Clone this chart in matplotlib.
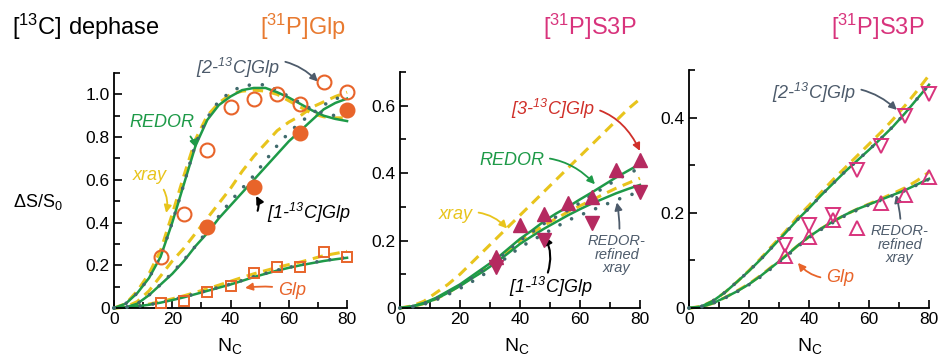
import matplotlib
matplotlib.use("Agg")
import matplotlib.pyplot as plt
import numpy as np

plt.rcParams['font.family'] = ['Liberation Sans', 'DejaVu Sans']
plt.rcParams['mathtext.fontset'] = 'custom'
plt.rcParams['mathtext.rm'] = 'Liberation Sans'
plt.rcParams['mathtext.it'] = 'Liberation Sans:italic'
plt.rcParams['mathtext.default'] = 'regular'

GREEN = '#1e9a48'
YELLOW = '#e8c41c'
DOTS = '#3f6a6c'
ORANGE = '#e8642a'
MAGENTA = '#d8337c'
CRIMSON = '#b52a60'
RED = '#d0302a'
GRAYBLUE = '#4d5b6b'

# ---- data ----
nc_pts = [16, 24, 32, 40, 48, 56, 64, 72, 80]
nc_curve = [0, 4, 8, 12, 16, 20, 24, 28, 32, 36, 40, 44, 48, 52, 56, 60, 64, 68, 72, 76, 80]

# left panel: [31P]Glp
glp_c2 = [0.24, 0.44, 0.74, 0.94, 0.98, 1.00, 0.955, 1.06, 1.01]
glp_c1_nc = [32, 48, 64, 80]
glp_c1 = [0.38, 0.565, 0.82, 0.925]
glp_glp = [0.025, 0.035, 0.075, 0.105, 0.165, 0.19, 0.19, 0.26, 0.24]

c2_redor = [0, 0.02, 0.07, 0.14, 0.24, 0.40, 0.58, 0.76, 0.88, 0.95, 0.99,
            1.02, 1.03, 1.03, 1.01, 0.985, 0.955, 0.925, 0.90, 0.885, 0.875]
c2_xray = [0, 0.02, 0.08, 0.16, 0.27, 0.44, 0.62, 0.79, 0.90, 0.96, 1.00,
           1.015, 1.02, 1.015, 1.00, 0.97, 0.94, 0.91, 0.895, 0.89, 0.89]
c2_refined = [0, 0.02, 0.07, 0.14, 0.24, 0.40, 0.58, 0.77, 0.89, 0.97, 1.01,
              1.04, 1.045, 1.045, 1.02, 0.99, 0.96, 0.93, 0.91, 0.90, 0.90]
c1_redor = [0, 0.003, 0.02, 0.06, 0.11, 0.16, 0.22, 0.29, 0.35, 0.42, 0.48,
            0.54, 0.60, 0.66, 0.72, 0.78, 0.83, 0.88, 0.93, 0.96, 0.98]
c1_xray = [0, 0.005, 0.03, 0.08, 0.15, 0.22, 0.28, 0.35, 0.42, 0.49, 0.56,
           0.64, 0.71, 0.77, 0.83, 0.87, 0.90, 0.94, 0.965, 0.99, 1.01]
c1_refined = [0, 0.003, 0.02, 0.06, 0.11, 0.165, 0.225, 0.29, 0.36, 0.43, 0.50,
              0.56, 0.62, 0.69, 0.76, 0.82, 0.87, 0.91, 0.95, 0.98, 0.99]
g_redor = [0, 0.003, 0.008, 0.015, 0.025, 0.037, 0.05, 0.065, 0.08, 0.095, 0.11,
           0.127, 0.145, 0.16, 0.175, 0.188, 0.20, 0.21, 0.22, 0.228, 0.235]
g_xray = [0, 0.003, 0.01, 0.018, 0.03, 0.043, 0.057, 0.073, 0.09, 0.107, 0.125,
          0.143, 0.16, 0.175, 0.19, 0.203, 0.215, 0.23, 0.245, 0.255, 0.265]
g_refined = [0, 0.003, 0.008, 0.015, 0.026, 0.038, 0.052, 0.067, 0.082, 0.097, 0.112,
             0.129, 0.147, 0.162, 0.177, 0.19, 0.202, 0.212, 0.222, 0.23, 0.237]

# middle panel: [31P]S3P, 3-13C and 1-13C Glp
s3p_c3_nc = [32, 40, 48, 56, 64, 72, 80]
s3p_c3 = [0.15, 0.245, 0.28, 0.31, 0.33, 0.41, 0.44]
s3p_c1_nc = [32, 48, 64, 80]
s3p_c1 = [0.123, 0.203, 0.253, 0.345]
c3_redor = [0, 0.005, 0.015, 0.03, 0.05, 0.07, 0.095, 0.12, 0.145, 0.175, 0.205,
            0.23, 0.257, 0.28, 0.30, 0.322, 0.343, 0.365, 0.387, 0.407, 0.427]
c3_xray = [0, 0.006, 0.02, 0.045, 0.07, 0.10, 0.135, 0.17, 0.205, 0.24, 0.275,
           0.31, 0.345, 0.38, 0.415, 0.45, 0.485, 0.52, 0.555, 0.59, 0.62]
c3_refined = [0, 0.004, 0.013, 0.027, 0.046, 0.066, 0.09, 0.115, 0.14, 0.17, 0.20,
              0.225, 0.25, 0.27, 0.29, 0.312, 0.335, 0.357, 0.38, 0.398, 0.415]
m1_redor = [0, 0.004, 0.013, 0.027, 0.045, 0.065, 0.088, 0.11, 0.135, 0.162, 0.19,
            0.213, 0.235, 0.255, 0.275, 0.293, 0.31, 0.325, 0.34, 0.353, 0.365]
m1_xray = [0, 0.004, 0.013, 0.027, 0.045, 0.067, 0.09, 0.113, 0.138, 0.167, 0.20,
           0.222, 0.245, 0.265, 0.285, 0.303, 0.32, 0.338, 0.355, 0.37, 0.385]
m1_refined = [0, 0.003, 0.011, 0.024, 0.04, 0.058, 0.078, 0.1, 0.125, 0.153, 0.18,
              0.2, 0.22, 0.24, 0.26, 0.275, 0.29, 0.305, 0.32, 0.333, 0.345]

# right panel: [31P]S3P, 2-13C Glp and Glp
r_c2_nc = [32, 40, 48, 56, 64, 72, 80]
r_c2 = [0.133, 0.175, 0.196, 0.29, 0.34, 0.405, 0.45]
r_glp_nc = [32, 40, 48, 56, 64, 72, 80]
r_glp = [0.11, 0.15, 0.185, 0.168, 0.222, 0.238, 0.276]
r2_redor = [0, 0.003, 0.015, 0.033, 0.055, 0.078, 0.103, 0.13, 0.157, 0.185, 0.21,
            0.237, 0.262, 0.287, 0.31, 0.333, 0.357, 0.382, 0.41, 0.44, 0.47]
r2_xray = [0, 0.003, 0.015, 0.033, 0.055, 0.079, 0.105, 0.133, 0.16, 0.19, 0.216,
           0.243, 0.27, 0.295, 0.32, 0.345, 0.37, 0.397, 0.426, 0.457, 0.49]
r2_refined = [0, 0.003, 0.015, 0.033, 0.055, 0.078, 0.103, 0.13, 0.157, 0.185, 0.21,
              0.237, 0.262, 0.287, 0.31, 0.333, 0.357, 0.382, 0.41, 0.44, 0.47]
rg_redor = [0, 0.002, 0.01, 0.022, 0.035, 0.05, 0.068, 0.088, 0.108, 0.13, 0.15,
            0.167, 0.182, 0.196, 0.208, 0.218, 0.228, 0.238, 0.248, 0.26, 0.272]
rg_xray = [0, 0.002, 0.01, 0.022, 0.036, 0.051, 0.069, 0.089, 0.109, 0.13, 0.15,
           0.167, 0.182, 0.196, 0.208, 0.219, 0.23, 0.241, 0.253, 0.268, 0.286]
rg_refined = [0, 0.002, 0.01, 0.021, 0.034, 0.049, 0.066, 0.086, 0.106, 0.128, 0.148,
              0.165, 0.18, 0.194, 0.206, 0.217, 0.227, 0.237, 0.247, 0.259, 0.271]


def style_axis(ax, ytop, yticks, ylabels):
    ax.set_xlim(0, 80)
    ax.set_ylim(0, ytop)
    ax.patch.set_alpha(0)
    for s in ['top', 'right']:
        ax.spines[s].set_visible(False)
    ax.spines['left'].set_bounds(0, ytop)
    ax.spines['bottom'].set_bounds(0, 80)
    for s in ['left', 'bottom']:
        ax.spines[s].set_linewidth(1.3)
    ax.set_xticks([0, 20, 40, 60, 80])
    ax.set_xticks([10, 30, 50, 70], minor=True)
    ax.set_yticks(yticks)
    ax.set_yticklabels(ylabels)
    ax.set_yticks(np.arange(0.1, ytop + 0.001, 0.2), minor=True)
    ax.tick_params(which='both', direction='in', width=1.2, labelsize=12.5, pad=3)
    ax.tick_params(which='major', length=6)
    ax.tick_params(which='minor', length=4)


def curves(ax, redor, xray, refined):
    ax.plot(nc_curve, xray, color=YELLOW, lw=2.2, dashes=(3.4, 2.2), zorder=1, clip_on=False)
    ax.plot(nc_curve, redor, color=GREEN, lw=1.8, zorder=2, clip_on=False)
    ax.plot(nc_curve, refined, color=DOTS, lw=2.6, linestyle=(0, (0.01, 3.6)),
            dash_capstyle='round', zorder=3, clip_on=False)


def note(ax, text, xy, xytext, color, rad, size=13, tcolor=None, **kw):
    ax.annotate(text, xy=xy, xytext=xytext, color=tcolor or color, fontsize=size,
                style='italic', ha='center', va='center', annotation_clip=False,
                arrowprops=dict(arrowstyle='-|>', color=color, lw=1.3, mutation_scale=11,
                                shrinkA=2, shrinkB=0,
                                connectionstyle='arc3,rad=%s' % rad), **kw)


fig = plt.figure(figsize=(9.4, 3.58), dpi=100)
ax1 = fig.add_axes([0.1213, 0.1397, 0.2479, 0.6564])
ax2 = fig.add_axes([0.4255, 0.1397, 0.2553, 0.6592])
ax3 = fig.add_axes([0.733, 0.1397, 0.2553, 0.6634])

# left
style_axis(ax1, 1.1, [0, 0.2, 0.4, 0.6, 0.8, 1.0], ['0', '0.2', '0.4', '0.6', '0.8', '1.0'])
ax1.set_yticks([0.1, 0.3, 0.5, 0.7, 0.9, 1.1], minor=True)
curves(ax1, c2_redor, c2_xray, c2_refined)
curves(ax1, c1_redor, c1_xray, c1_refined)
curves(ax1, g_redor, g_xray, g_refined)
ax1.plot(nc_pts, glp_c2, 'o', ms=10, mfc='none', mec=ORANGE, mew=1.5, zorder=4, clip_on=False)
ax1.plot(glp_c1_nc, glp_c1, 'o', ms=10.5, color=ORANGE, mec=ORANGE, zorder=4, clip_on=False)
ax1.plot(nc_pts, glp_glp, 's', ms=7.5, mfc='none', mec=ORANGE, mew=1.4, zorder=4, clip_on=False)
note(ax1, '[2-$^{13}$C]Glp', (70, 1.06), (42.6, 1.124), GRAYBLUE, -0.35)
note(ax1, 'REDOR', (28.2, 0.75), (16.5, 0.866), GREEN, -0.35)
note(ax1, 'xray', (17.9, 0.445), (12.4, 0.618), YELLOW, -0.35)
note(ax1, 'Glp', (45, 0.094), (61, 0.084), ORANGE, 0.1, tcolor=ORANGE)
ax1.annotate('', xy=(48.8, 0.525), xytext=(49.3, 0.455), annotation_clip=False,
             arrowprops=dict(arrowstyle='-|>', color='black', lw=1.5, mutation_scale=11,
                             shrinkA=0, shrinkB=0, connectionstyle='arc3,rad=0.2'))
ax1.text(52.5, 0.445, '[1-$^{13}$C]Glp', fontsize=13, style='italic', ha='left',
         va='center', clip_on=False)

# middle
style_axis(ax2, 0.7, [0, 0.2, 0.4, 0.6], ['0', '0.2', '0.4', '0.6'])
ax2.set_yticks([0.1, 0.3, 0.5, 0.7], minor=True)
curves(ax2, c3_redor, c3_xray, c3_refined)
curves(ax2, m1_redor, m1_xray, m1_refined)
ax2.plot(s3p_c3_nc, s3p_c3, '^', ms=10, color=CRIMSON, zorder=4, clip_on=False)
ax2.plot(s3p_c1_nc, s3p_c1, 'v', ms=10, color=CRIMSON, zorder=4, clip_on=False)
note(ax2, '[3-$^{13}$C]Glp', (80, 0.466), (51, 0.59), RED, -0.4)
note(ax2, 'REDOR', (65, 0.367), (37.3, 0.436), GREEN, -0.3)
note(ax2, 'xray', (35.7, 0.236), (18.7, 0.278), YELLOW, -0.3)
ax2.annotate('', xy=(48.3, 0.212), xytext=(49.3, 0.105), annotation_clip=False,
             arrowprops=dict(arrowstyle='-|>', color='black', lw=1.5, mutation_scale=11,
                             shrinkA=0, shrinkB=0, connectionstyle='arc3,rad=0.2'))
ax2.text(50.3, 0.062, '[1-$^{13}$C]Glp', fontsize=13, style='italic', ha='center',
         va='center', clip_on=False)
note(ax2, 'REDOR-\nrefined\nxray', (72.3, 0.313), (72.3, 0.158), GRAYBLUE, 0.1,
     size=10.5, linespacing=0.95)

# right
style_axis(ax3, 0.5, [0, 0.2, 0.4], ['0', '0.2', '0.4'])
ax3.set_yticks([0.1, 0.3, 0.5], minor=True)
curves(ax3, r2_redor, r2_xray, r2_refined)
curves(ax3, rg_redor, rg_xray, rg_refined)
ax3.plot(r_c2_nc, r_c2, 'v', ms=10, mfc='none', mec=MAGENTA, mew=1.4, zorder=4, clip_on=False)
ax3.plot(r_glp_nc, r_glp, '^', ms=10, mfc='none', mec=MAGENTA, mew=1.4, zorder=4, clip_on=False)
note(ax3, '[2-$^{13}$C]Glp', (69.3, 0.417), (41.7, 0.453), GRAYBLUE, -0.3)
note(ax3, 'REDOR-\nrefined\nxray', (69, 0.238), (70.3, 0.133), GRAYBLUE, 0.1,
     size=10.5, linespacing=0.95)
note(ax3, 'Glp', (36.3, 0.095), (50.3, 0.065), ORANGE, -0.3)

# labels and titles
for x in [230, 517, 810]:
    fig.text(x / 940, 0.02, 'N$_C$', fontsize=14, ha='center', va='baseline')
fig.text(38 / 940, 1 - 202 / 358, 'ΔS/S$_0$', fontsize=13, ha='center', va='center')
fig.text(12 / 940, 0.902, '[$^{13}$C] dephase', fontsize=17, ha='left', va='baseline')
fig.text(303 / 940, 0.902, '[$^{31}$P]Glp', fontsize=17, ha='center', va='baseline', color='#e87a30')
fig.text(590 / 940, 0.902, '[$^{31}$P]S3P', fontsize=17, ha='center', va='baseline', color=MAGENTA)
fig.text(878 / 940, 0.902, '[$^{31}$P]S3P', fontsize=17, ha='center', va='baseline', color=MAGENTA)

fig.savefig('out.png', dpi=100)
